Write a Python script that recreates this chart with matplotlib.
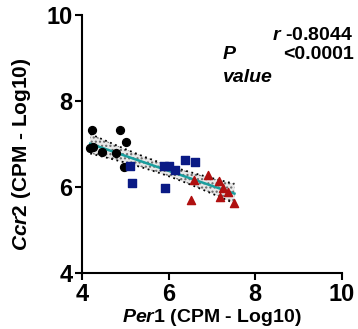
import numpy as np
import matplotlib.pyplot as plt

# values
ctrl_x = [4.22, 4.19, 4.25, 4.47, 4.78, 4.88, 5.02, 4.96]
ctrl_y = [7.32, 6.90, 6.93, 6.82, 6.79, 7.32, 7.04, 6.46]
mid_x = [5.12, 5.15, 5.90, 6.00, 5.92, 6.14, 6.38, 6.61]
mid_y = [6.48, 6.09, 6.48, 6.48, 5.98, 6.40, 6.63, 6.58]
high_x = [6.52, 6.59, 6.92, 7.16, 7.25, 7.18, 7.38, 7.52]
high_y = [5.71, 6.17, 6.27, 6.15, 5.99, 5.78, 5.88, 5.64]

r_text = "-0.8044"
p_text = "<0.0001"

plt.rcParams['font.family'] = ['Liberation Sans', 'DejaVu Sans']
plt.rcParams['font.weight'] = 'bold'
plt.rcParams['mathtext.fontset'] = 'custom'
plt.rcParams['mathtext.it'] = 'Liberation Sans:italic:bold'
plt.rcParams['mathtext.rm'] = 'Liberation Sans:bold'
plt.rcParams['mathtext.bf'] = 'Liberation Sans:bold'

fig = plt.figure(figsize=(3.58, 3.29), dpi=100)
ax = fig.add_axes([0.229, 0.170, 0.726, 0.784])

# linear fit with 95% confidence band
x_all = np.array(ctrl_x + mid_x + high_x)
y_all = np.array(ctrl_y + mid_y + high_y)
slope, icpt = np.polyfit(x_all, y_all, 1)
xs = np.linspace(x_all.min(), x_all.max(), 50)
fit = slope * xs + icpt
n = len(x_all)
resid = y_all - (slope * x_all + icpt)
s = np.sqrt(np.sum(resid ** 2) / (n - 2))
se = s * np.sqrt(1 / n + (xs - x_all.mean()) ** 2 / np.sum((x_all - x_all.mean()) ** 2))
ci = 2.06 * se

ax.fill_between(xs, fit - ci, fit + ci, facecolor='#e8e8e8', edgecolor='#666666',
                hatch='....', linewidth=0, zorder=1)
ax.plot(xs, fit + ci, color='black', ls=(0, (1, 2)), lw=1.3, zorder=2)
ax.plot(xs, fit - ci, color='black', ls=(0, (1, 2)), lw=1.3, zorder=2)
ax.plot(xs, fit, color='#1a9e9e', lw=1.8, zorder=3)

ax.scatter(ctrl_x, ctrl_y, s=32, marker='o', color='black', zorder=4)
ax.scatter(mid_x, mid_y, s=32, marker='s', color='#0a1a85', zorder=4)
ax.scatter(high_x, high_y, s=34, marker='^', color='#b01010', zorder=4)

ax.set_xlim(4, 10)
ax.set_ylim(4, 10)
ax.set_xticks([4, 6, 8, 10])
ax.set_yticks([4, 6, 8, 10])
for sp in ['top', 'right']:
    ax.spines[sp].set_visible(False)
for sp in ['left', 'bottom']:
    ax.spines[sp].set_linewidth(1.5)
ax.tick_params(width=1.5, length=5, labelsize=17, pad=2)

ax.set_xlabel(r"$\it{Per1}$ (CPM - Log10)", fontsize=14, fontweight='bold', labelpad=1)
ax.set_ylabel(r"$\it{Ccr2}$ (CPM - Log10)", fontsize=15, fontweight='bold')
ax.yaxis.set_label_coords(-0.19, 0.46)

ax.text(353, 289, r"$\it{r}$ " + r_text, transform=None, ha='right', va='baseline',
        fontsize=14, fontweight='bold')
ax.text(223, 270, "P", transform=None, ha='left', va='baseline', fontsize=14,
        style='italic', fontweight='bold')
ax.text(223, 247, "value", transform=None, ha='left', va='baseline', fontsize=14,
        style='italic', fontweight='bold')
ax.text(354, 270, p_text, transform=None, ha='right', va='baseline', fontsize=14,
        fontweight='bold')

fig.savefig('out.png', dpi=100)
